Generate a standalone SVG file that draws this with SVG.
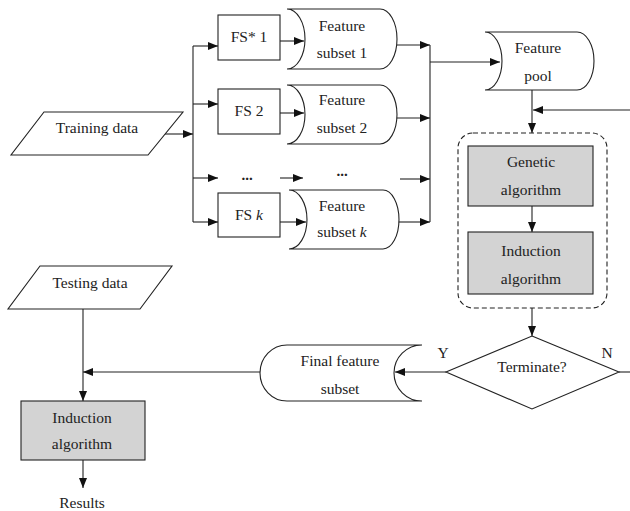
<svg xmlns="http://www.w3.org/2000/svg" width="630" height="511" viewBox="0 0 630 511">
<defs>
<marker id="ah" markerWidth="10" markerHeight="8" refX="10" refY="4" orient="auto" markerUnits="userSpaceOnUse">
<path d="M0,0 L10,4 L0,8 Z" fill="#111"/>
</marker>
<style>
.s{fill:#fff;stroke:#222;stroke-width:1.1}
.g{fill:#d3d3d3;stroke:#222;stroke-width:1.1}
.c{fill:none;stroke:#222;stroke-width:1.1}
.a{fill:none;stroke:#222;stroke-width:1.1;marker-end:url(#ah)}
.d{fill:none;stroke:#222;stroke-width:1.1;stroke-dasharray:5,3}
text{font-family:"Liberation Serif","Times New Roman",serif;font-size:15.5px;fill:#222;text-anchor:middle}
.dots{font-weight:bold;font-size:15px}
</style>
</defs>
<rect width="630" height="511" fill="#fff"/>

<g id="connectors">
<path class="a" d="M165,134 H193"/>
<path class="c" d="M193,46 V222"/>
<path class="a" d="M193,46 H218"/>
<path class="a" d="M193,104 H218"/>
<path class="a" d="M193,178 H218"/>
<path class="a" d="M193,222 H218"/>
<path class="a" d="M280,41 H304"/>
<path class="a" d="M280,113 H304"/>
<path class="a" d="M280,178 H303"/>
<path class="a" d="M280,222 H306"/>
<path class="a" d="M396,45 H430"/>
<path class="a" d="M396,118 H430"/>
<path class="a" d="M400,179 H430"/>
<path class="a" d="M398,222 H430"/>
<path class="c" d="M430,45 V222"/>
<path class="a" d="M430,62 H500"/>
<path class="a" d="M532,90 V133"/>
<path class="a" d="M630,110 H533"/>
<path class="a" d="M532,206 V232"/>
<path class="a" d="M532,308 V336"/>
<path class="a" d="M446,372 H395"/>
<path class="c" d="M619,372 H630"/>
<path class="a" d="M260,372 H83"/>
<path class="a" d="M83,309 V401"/>
<path class="a" d="M83,460 V488"/>
</g>

<g id="training-data">
<path class="s" d="M44,112 H183 L148,155 H11 Z"/>
<text x="97" y="133">Training data</text>
</g>

<g id="fs1">
<rect class="s" x="218" y="15" width="62" height="45"/>
<text x="249" y="42">FS* 1</text>
</g>
<g id="fs2">
<rect class="s" x="218" y="89" width="62" height="45"/>
<text x="249" y="116">FS 2</text>
</g>
<text class="dots" x="247" y="180">...</text>
<g id="fsk">
<rect class="s" x="218" y="193" width="62" height="44"/>
<text x="249" y="220">FS <tspan font-style="italic">k</tspan></text>
</g>

<g id="subset1">
<path class="s" d="M287,9 H380 A17,30 0 0 1 380,69 H287 A18,30 0 0 0 287,9 Z"/>
<text x="342" y="31">Feature</text>
<text x="342" y="58">subset 1</text>
</g>
<g id="subset2">
<path class="s" d="M287,85 H380 A17,29.5 0 0 1 380,144 H287 A18,29.5 0 0 0 287,85 Z"/>
<text x="342" y="105">Feature</text>
<text x="342" y="133">subset 2</text>
</g>
<text class="dots" x="342" y="176">...</text>
<g id="subsetk">
<path class="s" d="M289,190 H383 A16,29.5 0 0 1 383,249 H289 A18,29.5 0 0 0 289,190 Z"/>
<text x="342" y="211">Feature</text>
<text x="342" y="237">subset <tspan font-style="italic">k</tspan></text>
</g>

<g id="feature-pool">
<path class="s" d="M485,32 H577 A17,29 0 0 1 577,90 H485 A17,29 0 0 0 485,32 Z"/>
<text x="538" y="53">Feature</text>
<text x="538" y="81">pool</text>
</g>

<g id="ga-loop">
<rect class="d" x="458" y="133" width="149" height="175" rx="15" ry="15"/>
</g>
<g id="genetic">
<rect class="g" x="468" y="146" width="125" height="60"/>
<text x="531" y="167">Genetic</text>
<text x="531" y="195">algorithm</text>
</g>
<g id="induction1">
<rect class="g" x="468" y="232" width="125" height="62"/>
<text x="531" y="256">Induction</text>
<text x="531" y="284">algorithm</text>
</g>

<g id="terminate">
<path class="s" d="M532,336 L619,372 L532,409 L446,372 Z"/>
<text x="532" y="372">Terminate?</text>
<text x="443" y="358">Y</text>
<text x="607" y="358">N</text>
</g>

<g id="final-subset">
<path class="s" d="M287,345 H422 A28,28 0 0 0 422,401 H287 A27,28 0 0 1 287,345 Z"/>
<text x="340" y="366">Final feature</text>
<text x="340" y="394">subset</text>
</g>

<g id="testing-data">
<path class="s" d="M40,266 H172 L140,309 H8 Z"/>
<text x="90" y="288">Testing data</text>
</g>

<g id="induction2">
<rect class="g" x="21" y="401" width="124" height="59"/>
<text x="82" y="423">Induction</text>
<text x="82" y="449">algorithm</text>
</g>

<text x="82" y="508">Results</text>
</svg>
